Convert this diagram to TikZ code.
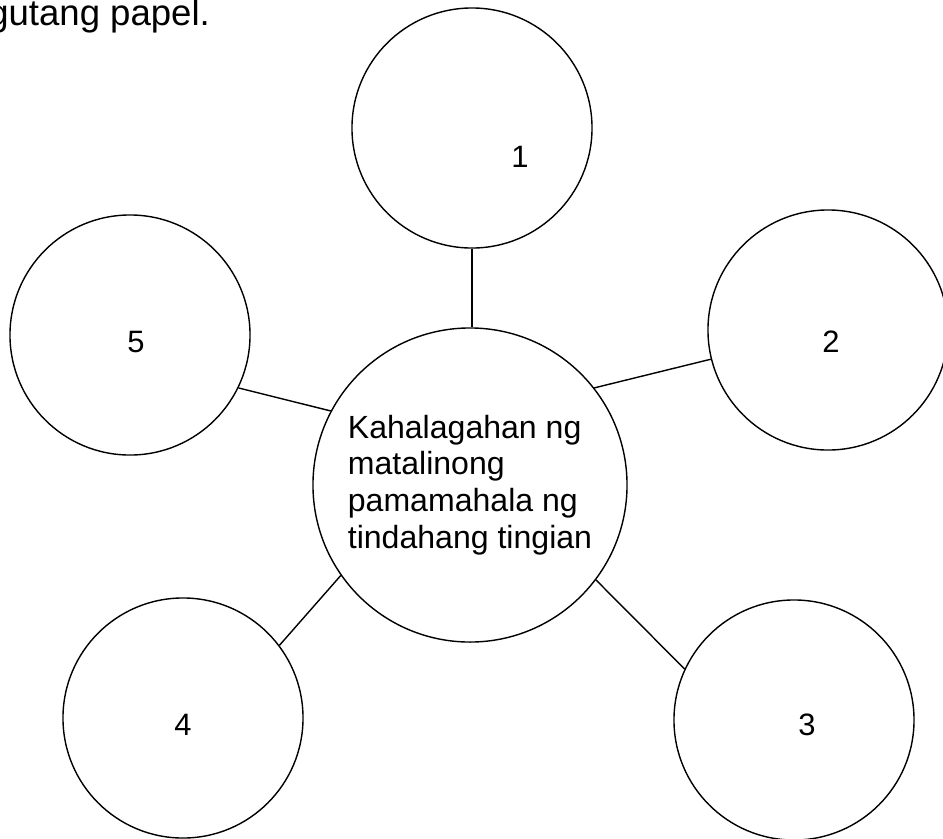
\documentclass[tikz,border=0pt]{standalone}
\usepackage{fontspec}
\setmainfont{Liberation Sans}
\begin{document}
\begin{tikzpicture}[x=0.025cm,y=-0.025cm,
     circ/.style={circle, draw, line width=1pt, minimum size=6cm, inner sep=0pt},
     hubcirc/.style={circle, draw, line width=1pt, minimum size=7.85cm, inner sep=0pt, align=left, font=\fontsize{22.8}{26.2}\selectfont},
     num/.style={inner sep=0pt, font=\fontsize{22}{26}\selectfont},
     spoke/.style={line width=1pt}]
     \useasboundingbox (0,0) rectangle (943,838);
     \node[anchor=base west, inner sep=0pt, font=\fontsize{26}{30}\selectfont] (intro) at (-12,25) {gutang papel.};
     \node[hubcirc] (hub) at (470,485) {Kahalagahan ng\\matalinong\\pamamahala ng\\tindahang tingian};
     \node[circ] (c1) at (472,128) {};
     \node[circ] (c2) at (828,330) {};
     \node[circ] (c3) at (794,720) {};
     \node[circ] (c4) at (183,718) {};
     \node[circ] (c5) at (130,335) {};
     \node[num] (n1) at (520,157) {1};
     \node[num] (n2) at (831,342) {2};
     \node[num] (n3) at (807,725) {3};
     \node[num] (n4) at (183,725) {4};
     \node[num] (n5) at (136,342) {5};
     \draw[spoke] (c1.south)--(c1.south |- hub.north);
     \draw[spoke] (hub.38)--(c2.194);
     \draw[spoke] (hub.-37)--(c3.155);
     \draw[spoke] (hub.215)--(c4.37);
     \draw[spoke] (hub.152)--(c5.-26);
\end{tikzpicture}
\end{document}
